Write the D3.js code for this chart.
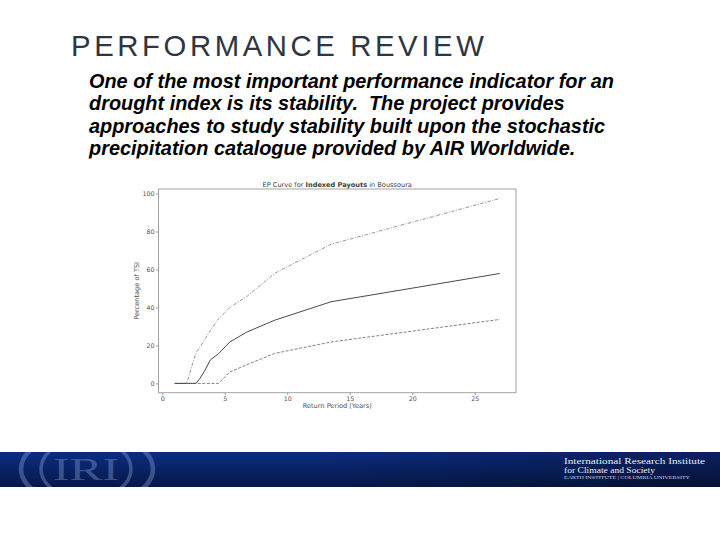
<!DOCTYPE html>
<html>
<head>
<meta charset="utf-8">
<script src="https://cdn.jsdelivr.net/npm/d3@7"></script>
<style>
  html, body { margin: 0; padding: 0; background: #fff; }
  svg { display: block; }
  .pre { white-space: pre; }
</style>
</head>
<body>
<svg id="slide" width="720" height="540"></svg>
<script>
// ---- data ----
const slideTitle = "PERFORMANCE REVIEW";
const bodyLines = [
  "One of the most important performance indicator for an",
  "drought index is its stability.  The project provides",
  "approaches to study stability built upon the stochastic",
  "precipitation catalogue provided by AIR Worldwide."
];
const chartTitleParts = ["EP Curve for ", "Indexed Payouts", " in Boussoura"];
const xLabel = "Return Period (Years)";
const yLabel = "Percentage of TSI";
const xTicks = [0, 5, 10, 15, 20, 25];
const yTicks = [0, 20, 40, 60, 80, 100];
const returnPeriods = [1, 1.93, 2.08, 2.25, 2.45, 2.7, 3, 3.38, 3.86, 4.5, 5.4, 6.75, 9, 13.5, 27];
const upperValues   = [0, 0, 2.5, 6.5, 11, 16, 19, 23, 28, 34, 40, 45.7, 58, 73.3, 97.4];
const medianValues  = [0, 0, 0, 0, 0, 0, 2.5, 6.5, 12.5, 15.6, 21.8, 27, 33.3, 43, 57.9];
const lowerValues   = [0, 0, 0, 0, 0, 0, 0, 0, 0, 0, 6, 9.8, 15.8, 21.8, 33.7];
const bannerLines = ["International Research Institute", "for Climate and Society", "EARTH INSTITUTE | COLUMBIA UNIVERSITY"];
const logoText = "IRI";

const svg = d3.select("#slide");
const defs = svg.append("defs");

// ---- slide title ----
svg.append("text")
  .attr("x", 71).attr("y", 56)
  .attr("font-family", "Liberation Sans, Arial, sans-serif")
  .attr("font-size", 29.3)
  .attr("letter-spacing", 3.6)
  .attr("fill", "#2f3540")
  .text(slideTitle);

// ---- body text (last line clipped like the text box) ----
defs.append("clipPath").attr("id", "bodyClip")
  .append("rect").attr("x", 0).attr("y", 60).attr("width", 720).attr("height", 98.5);
const body = svg.append("g").attr("clip-path", "url(#bodyClip)");
body.selectAll("text").data(bodyLines).join("text")
  .attr("class", "pre")
  .attr("x", 89)
  .attr("y", (d, i) => 88 + i * 22.4)
  .attr("font-family", "Liberation Sans, Arial, sans-serif")
  .attr("font-size", 19.9)
  .attr("font-weight", "bold")
  .attr("font-style", "italic")
  .attr("fill", "#000")
  .text(d => d);

// ---- chart ----
const plot = { left: 158.5, right: 516, top: 189, bottom: 392.7 };
const x = d3.scaleLinear().domain([-0.3, 28.3]).range([plot.left, plot.right]);
const y = d3.scaleLinear().domain([-4.9, 102.4]).range([plot.bottom, plot.top]);
const chart = svg.append("g");
const tickFont = "DejaVu Sans, sans-serif";
const textCol = "#505050";

const xAxis = chart.append("g")
  .attr("transform", `translate(0,${plot.bottom})`)
  .call(d3.axisBottom(x).tickValues(xTicks).tickSize(2.5).tickPadding(1.5).tickFormat(d3.format("d")));
const yAxis = chart.append("g")
  .attr("transform", `translate(${plot.left},0)`)
  .call(d3.axisLeft(y).tickValues(yTicks).tickSize(2.5).tickPadding(1.5).tickFormat(d3.format("d")));
[xAxis, yAxis].forEach(a => {
  a.select(".domain").remove();
  a.selectAll(".tick line").attr("stroke", "#888").attr("stroke-width", 0.8);
  a.selectAll(".tick text").attr("fill", textCol).attr("font-family", tickFont).attr("font-size", 6.3);
});

// frame (all four spines)
chart.append("rect")
  .attr("x", x(-0.3)).attr("y", y(102.4))
  .attr("width", x(28.3) - x(-0.3)).attr("height", y(-4.9) - y(102.4))
  .attr("fill", "none").attr("stroke", "#9a9a9a").attr("stroke-width", 0.9);

const line = d3.line().x(d => x(d[0])).y(d => y(d[1]));
const series = [
  { vals: upperValues,  stroke: "#7a7a7a", width: 0.8, dash: "3.5,1.5,1,1.5" },
  { vals: lowerValues,  stroke: "#6a6a6a", width: 0.85, dash: "3,1.6" },
  { vals: medianValues, stroke: "#4a4a4a", width: 1.0, dash: null }
];
series.forEach(s => {
  chart.append("path")
    .datum(returnPeriods.map((rp, i) => [rp, s.vals[i]]))
    .attr("d", line)
    .attr("fill", "none")
    .attr("stroke", s.stroke)
    .attr("stroke-width", s.width)
    .attr("stroke-dasharray", s.dash);
});

// chart title
const ct = chart.append("text")
  .attr("x", (plot.left + plot.right) / 2).attr("y", 186.5)
  .attr("text-anchor", "middle")
  .attr("font-family", tickFont).attr("font-size", 6.6).attr("fill", "#404040");
ct.selectAll("tspan").data(chartTitleParts).join("tspan")
  .attr("class", "pre")
  .attr("font-weight", (d, i) => i === 1 ? "bold" : "normal")
  .text(d => d);

chart.append("text")
  .attr("x", (plot.left + plot.right) / 2).attr("y", 408)
  .attr("text-anchor", "middle")
  .attr("font-family", tickFont).attr("font-size", 6.6).attr("fill", textCol)
  .text(xLabel);
chart.append("text")
  .attr("transform", `translate(139,${(plot.top + plot.bottom) / 2}) rotate(-90)`)
  .attr("text-anchor", "middle")
  .attr("font-family", tickFont).attr("font-size", 6.6).attr("fill", textCol)
  .text(yLabel);

// ---- footer banner ----
const gH = defs.append("linearGradient").attr("id", "bannerH").attr("x1", 0).attr("x2", 1).attr("y1", 0).attr("y2", 0);
gH.append("stop").attr("offset", 0).attr("stop-color", "#0b2c82");
gH.append("stop").attr("offset", 0.45).attr("stop-color", "#0b2c80");
gH.append("stop").attr("offset", 1).attr("stop-color", "#0a2060");
const gV = defs.append("linearGradient").attr("id", "bannerV").attr("x1", 0).attr("x2", 0).attr("y1", 0).attr("y2", 1);
gV.append("stop").attr("offset", 0).attr("stop-color", "#000").attr("stop-opacity", 0);
gV.append("stop").attr("offset", 1).attr("stop-color", "#000").attr("stop-opacity", 0.45);
defs.append("clipPath").attr("id", "bannerClip")
  .append("rect").attr("x", 0).attr("y", 452).attr("width", 720).attr("height", 35);

const banner = svg.append("g");
banner.append("rect").attr("x", 0).attr("y", 452).attr("width", 720).attr("height", 35).attr("fill", "url(#bannerH)");
banner.append("rect").attr("x", 0).attr("y", 452).attr("width", 720).attr("height", 35).attr("fill", "url(#bannerV)");

const logo = banner.append("g").attr("clip-path", "url(#bannerClip)").attr("opacity", 0.38);
logo.append("ellipse").attr("cx", 87).attr("cy", 469).attr("rx", 66).attr("ry", 36)
  .attr("fill", "none").attr("stroke", "#8fa6d8").attr("stroke-width", 4.5);
logo.append("ellipse").attr("cx", 86).attr("cy", 469).attr("rx", 45).attr("ry", 30)
  .attr("fill", "none").attr("stroke", "#8fa6d8").attr("stroke-width", 3.5);
logo.append("text")
  .attr("x", 86).attr("y", 480)
  .attr("text-anchor", "middle")
  .attr("font-family", "Liberation Serif, Times New Roman, serif")
  .attr("font-size", 32)
  .attr("textLength", 66).attr("lengthAdjust", "spacingAndGlyphs")
  .attr("fill", "#8fa6d8")
  .text(logoText);

const bt = banner.append("g").attr("fill", "#e8ecf5").attr("font-family", "Liberation Serif, Times New Roman, serif");
bt.append("text").attr("x", 564).attr("y", 463.5).attr("font-size", 9)
  .attr("textLength", 141).attr("lengthAdjust", "spacingAndGlyphs").text(bannerLines[0]);
bt.append("text").attr("x", 564).attr("y", 472.5).attr("font-size", 8.6)
  .attr("textLength", 91).attr("lengthAdjust", "spacingAndGlyphs").text(bannerLines[1]);
bt.append("text").attr("x", 564).attr("y", 479).attr("font-size", 4)
  .attr("textLength", 126).attr("lengthAdjust", "spacingAndGlyphs").attr("opacity", 0.85).text(bannerLines[2]);
</script>
</body>
</html>
